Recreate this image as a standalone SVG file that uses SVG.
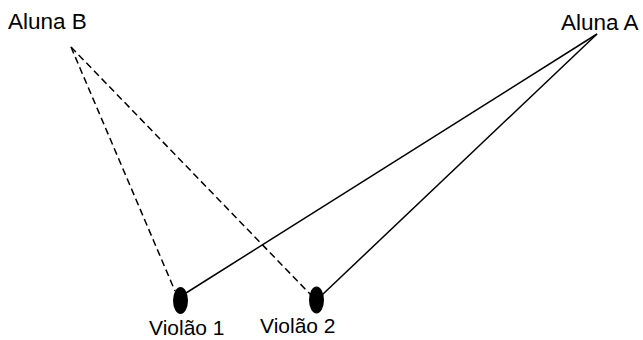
<svg xmlns="http://www.w3.org/2000/svg" width="643" height="340" viewBox="0 0 643 340">
<style>
.lbl{font-family:"Liberation Sans",Arial,sans-serif;font-size:21px;fill:#000}
.big{font-size:22.5px}
.solid{stroke:#000;stroke-width:1.5;fill:none}
.dash{stroke:#000;stroke-width:1.5;fill:none;stroke-dasharray:7,4}
.guitar{fill:#000}
</style>
<rect width="643" height="340" fill="#fff"/>
<g id="connectors">
<line class="dash" x1="71" y1="47" x2="175" y2="291"/>
<line class="dash" x1="71" y1="47" x2="311" y2="295"/>
<line class="solid" x1="597" y1="34" x2="186" y2="293"/>
<line class="solid" x1="597" y1="34" x2="322" y2="295"/>
</g>
<g id="aluna-b"><text class="lbl big" x="8" y="29">Aluna B</text></g>
<g id="aluna-a"><text class="lbl big" x="561" y="30">Aluna A</text></g>
<g id="violao-1">
<ellipse class="guitar" cx="180.5" cy="300.5" rx="7.5" ry="13.5"/>
<text class="lbl" x="149" y="335">Violão 1</text>
</g>
<g id="violao-2">
<ellipse class="guitar" cx="316.5" cy="300" rx="7.5" ry="13.5"/>
<text class="lbl" x="260" y="333">Violão 2</text>
</g>
</svg>
